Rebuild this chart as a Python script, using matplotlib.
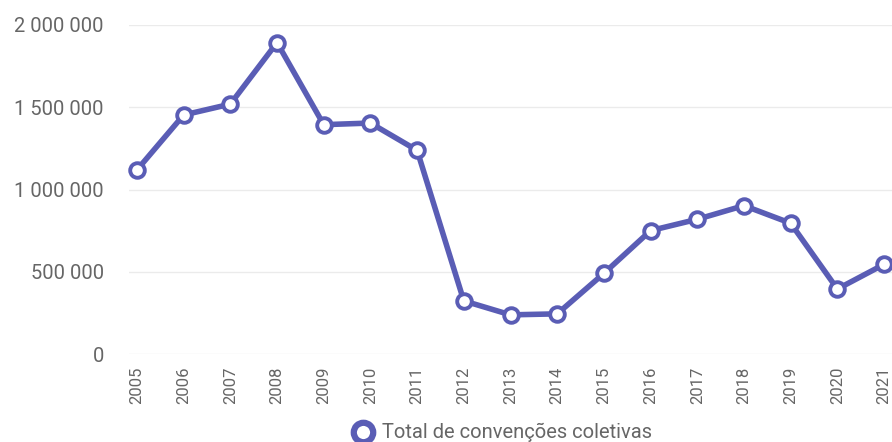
import numpy as np
from matplotlib import pyplot as plt
from matplotlib.ticker import FuncFormatter

plt.rcParams['font.family'] = ['Roboto', 'DejaVu Sans']

years = list(range(2005, 2022))
total = [1119000, 1453000, 1519000, 1893000, 1394000, 1404000, 1238000,
         323000, 238000, 244000, 490000, 750000, 819000, 902000, 795000,
         395000, 545000]
y_ticks = [0, 500000, 1000000, 1500000, 2000000]
series_name = "Total de convenções coletivas"

color = '#5a5db5'
grey = '#666666'

fig = plt.figure(figsize=(8.92, 4.42), dpi=100)
ax = fig.add_axes([129 / 892, 1 - 354 / 442, 1 - 129 / 892, (354 - 25) / 442])

ax.plot(years, total, color=color, lw=4, marker='o', ms=10.5,
        mfc='white', mec=color, mew=2.8, clip_on=False, zorder=3)

ax.set_xlim(2004.83, 2021.17)
ax.set_ylim(0, 2000000)
ax.set_yticks(y_ticks)
ax.yaxis.set_major_formatter(FuncFormatter(lambda v, p: f"{int(v):,}".replace(",", " ")))
ax.set_xticks(years)
ax.set_xticklabels([str(y) for y in years], rotation=90)

ax.grid(axis='y', color='#ebebeb', lw=1)
ax.set_axisbelow(True)
for s in ax.spines.values():
    s.set_visible(False)
ax.tick_params(axis='both', length=0, colors=grey)
ax.tick_params(axis='y', pad=18, labelsize=14.5)
ax.tick_params(axis='x', pad=9, labelsize=12)

# legend below
fig.lines.append(plt.Line2D([363 / 892], [1 - 432 / 442], transform=fig.transFigure,
                            marker='o', ms=14, mfc='white', mec=color, mew=4.5))
fig.text(382 / 892, 1 - 432 / 442, series_name, color=grey, fontsize=14.5,
         va='center', ha='left')

fig.savefig('out.png', dpi=100)
